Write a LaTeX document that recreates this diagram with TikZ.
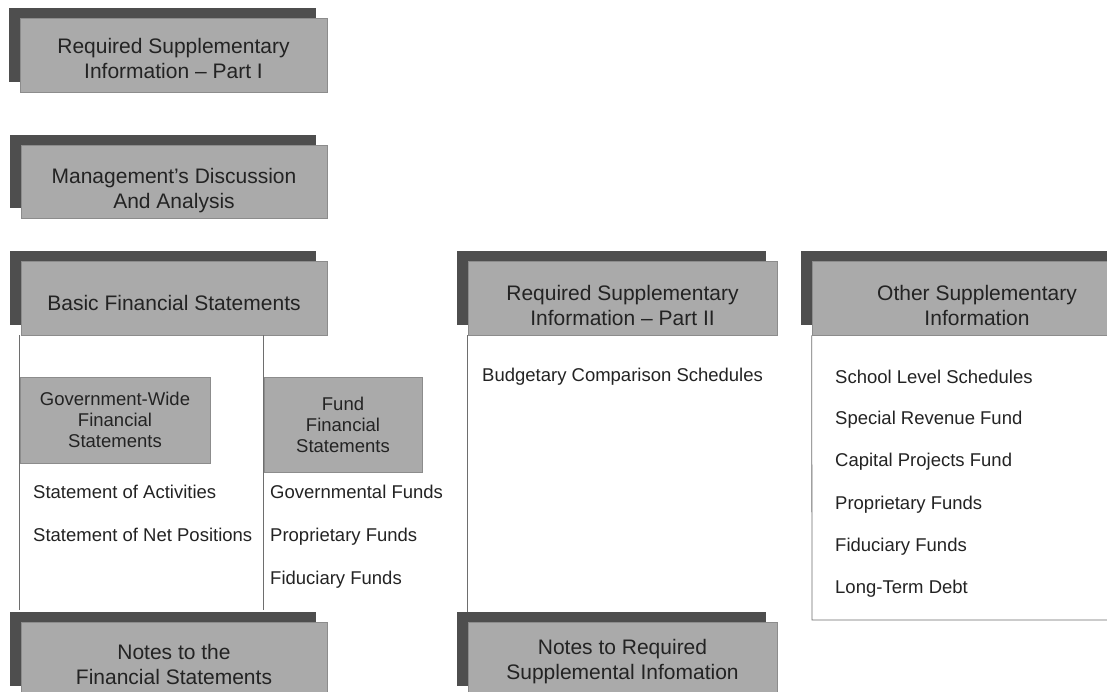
\documentclass[tikz,border=0pt]{standalone}
\usepackage{fontspec}
\setmainfont{Liberation Sans}
\usetikzlibrary{shadows,calc}
\definecolor{boxgray}{RGB}{170,170,170}
\definecolor{boxedge}{RGB}{140,140,140}
\definecolor{shadowdark}{RGB}{78,78,78}
\definecolor{linegray}{RGB}{110,110,110}
\definecolor{txt}{RGB}{35,35,35}
\tikzset{
  hdrbox/.style={fill=boxgray, draw=boxedge, line width=0.6pt, inner sep=0pt,
    copy shadow={shadow xshift=-11pt, shadow yshift=10pt, fill=shadowdark, draw=none}},
  hdrtext/.style={align=center, font=\fontsize{21}{25}\selectfont, text=txt, inner sep=0pt},
  subbox/.style={fill=boxgray, draw=boxedge, line width=0.6pt, inner sep=0pt,
    align=center, font=\fontsize{18.5}{21}\selectfont, text=txt},
  itemtext/.style={anchor=base west, font=\fontsize{18.5}{22}\selectfont, text=txt, inner sep=0pt},
  frameline/.style={draw=linegray, line width=0.8pt}
}
\begin{document}
\begin{tikzpicture}[x=1pt,y=-1pt]
\clip (0,0) rectangle (1107,692);
\fill[white] (0,0) rectangle (1107,692);

% header boxes
\node[hdrbox, minimum width=307pt, minimum height=74pt] (h1) at (173.5,55) {};
\node[hdrtext] (h1t) at ($(h1.center)+(0,3)$) {Required Supplementary\\Information -- Part I};

\node[hdrbox, minimum width=306pt, minimum height=73pt] (h2) at (174,181.5) {};
\node[hdrtext] (h2t) at ($(h2.center)+(0,9)$) {Management's Discussion\\And Analysis};

% frames (behind boxes)
\node[hdrbox, minimum width=306pt, minimum height=74pt] (bfs) at (174,298) {};
\node[hdrtext] (bfst) at ($(bfs.center)+(0,5)$) {Basic Financial Statements};

\node[hdrbox, minimum width=309pt, minimum height=74pt] (rsi) at (622.5,298) {};
\node[hdrtext] (rsit) at ($(rsi.center)+(0,7)$) {Required Supplementary\\Information -- Part II};

\node[hdrbox, minimum width=330pt, minimum height=74pt] (osi) at (977,298) {};
\node[hdrtext] (osit) at ($(osi.center)+(0,7)$) {Other Supplementary\\Information};

\node[hdrbox, minimum width=306pt, minimum height=74pt] (nfs) at (174,659) {};
\node[hdrtext] (nfst) at ($(nfs.center)+(0,5)$) {Notes to the\\Financial Statements};

\node[hdrbox, minimum width=309pt, minimum height=74pt] (nrsi) at (622.5,659) {};
\node[hdrtext] (nrsit) at ($(nrsi.center)+(0,3)$) {Notes to Required\\Supplemental Infomation};

% connector / frame lines
\coordinate (bfsL) at ($(bfs.south west)+(-1,0)$);
\coordinate (nfsL) at (bfsL |- 0,610);
\draw[frameline] (bfsL) -- (nfsL);
\coordinate (divT) at (263,335);
\coordinate (divB) at (263,610);
\draw[frameline] (divT) -- (divB);
\coordinate (rsiB) at (rsi.south west |- 0,612);
\draw[frameline] (rsi.south west) -- (rsiB);
\coordinate (osiBL) at (812,620);
\coordinate (osiBR) at (1150,620);
\draw[frameline] (osi.south west) -- (osiBL) -- (osiBR);

% sub boxes
\node[subbox, minimum width=190pt, minimum height=86pt] (gov) at (115,420) {Government-Wide\\Financial\\Statements};
\node[subbox, minimum width=158pt, minimum height=95pt] (fund) at (343,424.5) {Fund\\Financial\\Statements};

% items
\node[itemtext] (i1) at (33,498.5) {Statement of Activities};
\node[itemtext] (i2) at (33,541.5) {Statement of Net Positions};
\node[itemtext] (i3) at (270,498.5) {Governmental Funds};
\node[itemtext] (i4) at (270,541.5) {Proprietary Funds};
\node[itemtext] (i5) at (270,584.5) {Fiduciary Funds};
\node[itemtext] (i6) at (482,381.5) {Budgetary Comparison Schedules};
\node[itemtext] (o1) at (835,383.5) {School Level Schedules};
\node[itemtext] (o2) at (835,424.5) {Special Revenue Fund};
\node[itemtext] (o3) at (835,466.5) {Capital Projects Fund};
\node[itemtext] (o4) at (835,509.5) {Proprietary Funds};
\node[itemtext] (o5) at (835,551.5) {Fiduciary Funds};
\node[itemtext] (o6) at (835,593.5) {Long-Term Debt};
\end{tikzpicture}
\end{document}
